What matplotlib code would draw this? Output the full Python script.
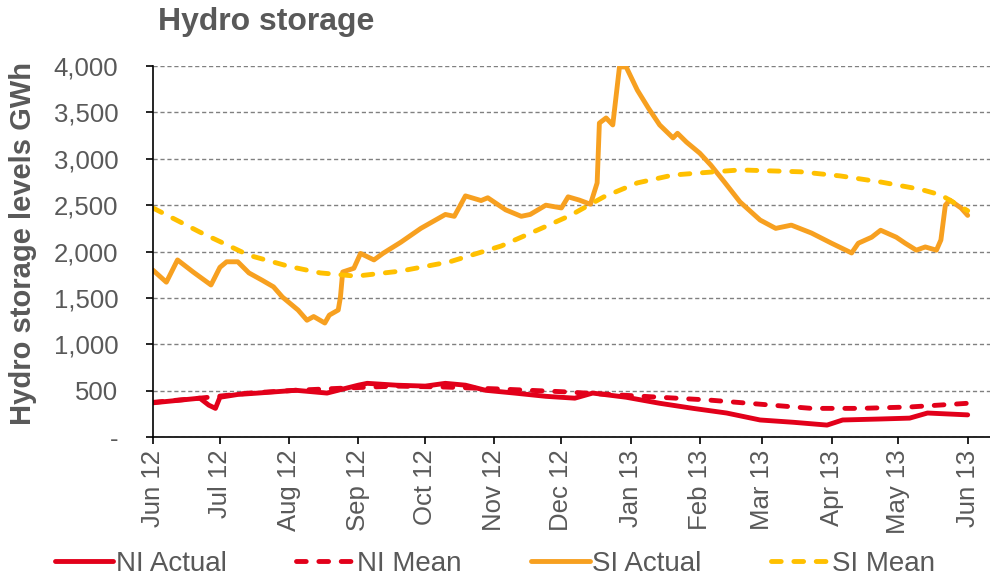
import numpy as np
import pandas as pd
import matplotlib
matplotlib.use("Agg")
import matplotlib.pyplot as plt
import matplotlib.dates as mdates
from matplotlib.ticker import FuncFormatter

# Data (GWh)

si_actual_dates = ["2012-06-01", "2012-06-07", "2012-06-12", "2012-06-19", "2012-06-27",
                   "2012-07-01", "2012-07-04", "2012-07-09", "2012-07-14", "2012-07-20",
                   "2012-07-25", "2012-07-29", "2012-08-05", "2012-08-09", "2012-08-12",
                   "2012-08-17", "2012-08-19", "2012-08-23", "2012-08-24", "2012-08-25",
                   "2012-08-30", "2012-09-02", "2012-09-08", "2012-09-12", "2012-09-20",
                   "2012-09-29", "2012-10-10", "2012-10-14", "2012-10-19", "2012-10-26",
                   "2012-10-29", "2012-11-06", "2012-11-13", "2012-11-17", "2012-11-24",
                   "2012-12-01", "2012-12-04", "2012-12-09", "2012-12-14", "2012-12-17",
                   "2012-12-18", "2012-12-21", "2012-12-24", "2012-12-27", "2012-12-30",
                   "2013-01-04", "2013-01-09", "2013-01-14", "2013-01-20", "2013-01-22",
                   "2013-01-26", "2013-02-01", "2013-02-06", "2013-02-12", "2013-02-19",
                   "2013-02-28", "2013-03-07", "2013-03-14", "2013-03-23", "2013-04-01",
                   "2013-04-10", "2013-04-13", "2013-04-19", "2013-04-23", "2013-04-30",
                   "2013-05-04", "2013-05-09", "2013-05-13", "2013-05-18", "2013-05-20",
                   "2013-05-22", "2013-05-24", "2013-05-29", "2013-06-01"]
si_actual = [1800, 1670, 1910, 1780, 1640,
             1830, 1890, 1890, 1770, 1690,
             1620, 1510, 1370, 1260, 1300,
             1230, 1315, 1370, 1510, 1780,
             1820, 1980, 1910, 1980, 2100,
             2250, 2400, 2380, 2600, 2550,
             2580, 2450, 2380, 2400, 2500,
             2470, 2590, 2555, 2510, 2740,
             3385, 3440, 3365, 3990, 3990,
             3740, 3545, 3365, 3225, 3275,
             3180, 3060, 2930, 2750, 2535,
             2340, 2250, 2285, 2200, 2090,
             1985, 2090, 2155, 2230, 2155,
             2090, 2015, 2050, 2015, 2125,
             2500, 2555, 2470, 2390]

si_mean_dates = ["2012-06-01", "2012-06-22", "2012-07-14", "2012-08-01", "2012-08-15",
                 "2012-08-31", "2012-09-20", "2012-10-12", "2012-11-04", "2012-11-22",
                 "2012-12-05", "2012-12-20", "2013-01-04", "2013-01-20", "2013-02-05",
                 "2013-02-19", "2013-03-18", "2013-04-05", "2013-04-23", "2013-05-11",
                 "2013-05-20", "2013-06-01"]
si_mean = [2470, 2210, 1960, 1840, 1770,
           1735, 1790, 1890, 2060, 2250,
           2390, 2590, 2740, 2825, 2855,
           2880, 2860, 2815, 2750, 2670,
           2610, 2440]

ni_actual_dates = ["2012-06-01", "2012-06-22", "2012-06-26", "2012-06-29", "2012-07-01",
                   "2012-07-09", "2012-07-18", "2012-08-04", "2012-08-18", "2012-08-27",
                   "2012-09-01", "2012-09-05", "2012-09-18", "2012-10-01", "2012-10-10",
                   "2012-10-19", "2012-10-28", "2012-11-10", "2012-11-24", "2012-12-07",
                   "2012-12-15", "2012-12-30", "2013-01-14", "2013-01-29", "2013-02-13",
                   "2013-02-28", "2013-03-15", "2013-03-30", "2013-04-06", "2013-04-22",
                   "2013-05-06", "2013-05-14", "2013-06-01"]
ni_actual = [370, 420, 345, 310, 430,
             460, 475, 505, 475, 530,
             560, 580, 560, 550, 580,
             560, 505, 475, 440, 420,
             475, 430, 365, 310, 260,
             185, 160, 130, 185, 195,
             205, 260, 240]

ni_mean_dates = ["2012-06-01", "2012-06-22", "2012-07-14", "2012-08-04", "2012-08-27",
                 "2012-09-18", "2012-10-10", "2012-11-02", "2012-12-01", "2013-01-14",
                 "2013-02-05", "2013-02-28", "2013-03-23", "2013-04-14", "2013-05-06",
                 "2013-06-01"]
ni_mean = [375, 420, 475, 505, 530,
           550, 540, 520, 490, 430,
           400, 355, 310, 310, 325,
           365]

red = "#E2001A"
orange = "#F7A020"
yellow = "#FFC000"
grey = "#595959"

plt.rcParams["font.family"] = ["Liberation Sans", "DejaVu Sans"]

fig = plt.figure(figsize=(9.9, 5.79), dpi=100)
ax = fig.add_axes([0.1545, 0.245, 0.8455, 0.641])

lw = 3.5
dash = (2.0, 2.6)
ax.plot(pd.to_datetime(ni_actual_dates), ni_actual, color=red, lw=lw,
        solid_capstyle="round", solid_joinstyle="round", label="NI Actual")
ax.plot(pd.to_datetime(ni_mean_dates), ni_mean, color=red, lw=lw,
        dashes=dash, dash_capstyle="round", label="NI Mean")
ax.plot(pd.to_datetime(si_actual_dates), si_actual, color=orange, lw=lw,
        solid_capstyle="round", solid_joinstyle="round", label="SI Actual")
ax.plot(pd.to_datetime(si_mean_dates), si_mean, color=yellow, lw=lw,
        dashes=dash, dash_capstyle="round", label="SI Mean")

ax.set_ylim(0, 4000)
ax.set_yticks(np.arange(0, 4001, 500))
ax.yaxis.set_major_formatter(FuncFormatter(lambda v, p: "-" if v == 0 else "{:,.0f}".format(v)))
ax.set_xlim(pd.Timestamp("2012-06-01"), pd.Timestamp("2013-06-11"))
ax.xaxis.set_major_locator(mdates.MonthLocator())
ax.xaxis.set_major_formatter(mdates.DateFormatter("%b %y"))

ax.grid(axis="y", color="#808080", linestyle=(0, (3, 2)), linewidth=1)
ax.set_axisbelow(True)
for s in ["top", "right"]:
    ax.spines[s].set_visible(False)
for s in ["left", "bottom"]:
    ax.spines[s].set_color("black")
    ax.spines[s].set_linewidth(1.2)

ax.tick_params(axis="both", colors="black", labelcolor=grey, labelsize=18.5,
               length=5, width=1.2, direction="out")
ax.tick_params(axis="x", labelrotation=90, pad=4)
ax.tick_params(axis="y", pad=20)

fig.text(0.16, 0.962, "Hydro storage", fontsize=23, fontweight="bold",
         color=grey, ha="left", va="center")
fig.text(0.023, 0.58, "Hydro storage levels GWh", fontsize=21, fontweight="bold",
         color=grey, rotation=90, ha="center", va="center")

leg = fig.legend(loc="center", bbox_to_anchor=(0.5, 0.026), ncol=4, frameon=False,
                 handlelength=2.1, handletextpad=0.1, columnspacing=2.5,
                 prop={"size": 20})
for t in leg.get_texts():
    t.set_color(grey)

fig.savefig("out.png", dpi=100)
